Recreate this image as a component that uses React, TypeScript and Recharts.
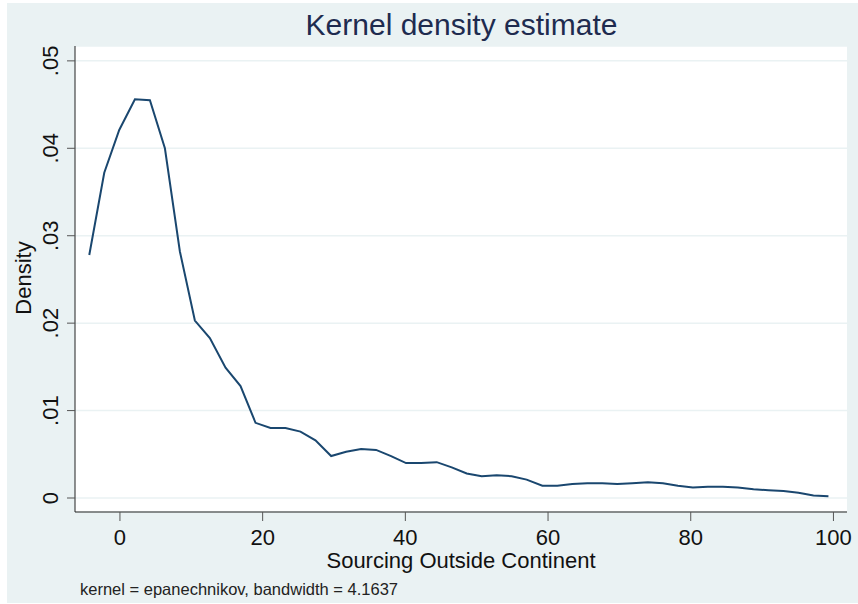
import { CartesianGrid, Line, LineChart, XAxis, YAxis } from 'recharts'

// evaluation points of the kernel density (Sourcing Outside Continent)
const xPoints = [
	-4.3, -2.2, -0.1, 2.1, 4.2, 6.3, 8.4, 10.5, 12.6, 14.8, 16.9, 19.0, 21.1,
	23.2, 25.3, 27.4, 29.6, 31.7, 33.8, 35.9, 38.0, 40.1, 42.2, 44.4, 46.5,
	48.6, 50.7, 52.8, 54.9, 57.0, 59.2, 61.3, 63.4, 65.5, 67.6, 69.7, 71.8,
	74.0, 76.1, 78.2, 80.3, 82.4, 84.5, 86.6, 88.8, 90.9, 93.0, 95.1, 97.2,
	99.3,
]

const densities = [
	0.0278, 0.0372, 0.0421, 0.0456, 0.0455, 0.04, 0.0282, 0.0203, 0.0183,
	0.0149, 0.0128, 0.0086, 0.008, 0.008, 0.0076, 0.0066, 0.0048, 0.0053,
	0.0056, 0.0055, 0.0048, 0.004, 0.004, 0.0041, 0.0035, 0.0028, 0.0025,
	0.0026, 0.0025, 0.0021, 0.0014, 0.0014, 0.0016, 0.0017, 0.0017, 0.0016,
	0.0017, 0.0018, 0.0017, 0.0014, 0.0012, 0.0013, 0.0013, 0.0012, 0.001,
	0.0009, 0.0008, 0.0006, 0.0003, 0.0002,
]

const xTicks = [0, 20, 40, 60, 80, 100]
const yTicks = [0, 0.01, 0.02, 0.03, 0.04, 0.05]
const yTickLabels = ['0', '.01', '.02', '.03', '.04', '.05']

const chartData = xPoints.map((x, i) => ({ x, density: densities[i] }))

const FONT = '"Liberation Sans", Arial, sans-serif'
const LINE_COLOR = '#1a476f'
const BG_COLOR = '#eaf2f3'

const XTick = ({ x, y, payload }: { x?: number; y?: number; payload?: { value: number } }) => (
	<text
		x={x}
		y={(y ?? 0) + 22}
		textAnchor="middle"
		fontSize={22}
		fontFamily={FONT}
		fill="#111"
	>
		{payload?.value}
	</text>
)

const YTick = ({ y, payload }: { y?: number; payload?: { value: number } }) => {
	const idx = yTicks.indexOf(payload?.value ?? -1)
	const label = idx >= 0 ? yTickLabels[idx] : String(payload?.value)
	return (
		<text
			transform={`translate(58, ${y}) rotate(-90)`}
			textAnchor="middle"
			fontSize={22}
			fontFamily={FONT}
			fill="#111"
		>
			{label}
		</text>
	)
}

export default function App() {
	return (
		<div
			style={{
				position: 'absolute',
				left: 0,
				top: 0,
				width: 858,
				height: 604,
				background: '#fff',
				fontFamily: FONT,
			}}
		>
			<div
				style={{
					position: 'absolute',
					left: 7,
					top: 3,
					width: 851,
					height: 600,
					background: BG_COLOR,
				}}
			/>
			<div style={{ position: 'absolute', left: 0, top: 0 }}>
				<LineChart
					width={858}
					height={604}
					data={chartData}
					margin={{ top: 46, right: 11, bottom: 52, left: 0 }}
				>
					<CartesianGrid
						vertical={false}
						stroke={BG_COLOR}
						strokeWidth={1.5}
						fill="#fff"
						fillOpacity={1}
					/>
					<XAxis
						type="number"
						dataKey="x"
						domain={[-6.3, 101.9]}
						ticks={xTicks}
						allowDataOverflow
						height={40}
						tickSize={9}
						stroke="#222"
						tickLine={{ stroke: '#555' }}
						tick={<XTick />}
					/>
					<YAxis
						type="number"
						domain={[-0.0016, 0.0517]}
						ticks={yTicks}
						allowDataOverflow
						width={75}
						tickSize={8}
						stroke="#222"
						tickLine={{ stroke: '#555' }}
						tick={<YTick />}
					/>
					<Line
						type="linear"
						dataKey="density"
						stroke={LINE_COLOR}
						strokeWidth={2}
						dot={false}
						activeDot={false}
						isAnimationActive={false}
					/>
					<text
						x={461.5}
						y={35}
						textAnchor="middle"
						fontSize={30}
						fontFamily={FONT}
						fill="#1e2b4f"
					>
						Kernel density estimate
					</text>
					<text
						transform="translate(31, 278) rotate(-90)"
						textAnchor="middle"
						fontSize={22}
						fontFamily={FONT}
						fill="#111"
					>
						Density
					</text>
					<text
						x={461}
						y={568}
						textAnchor="middle"
						fontSize={22}
						fontFamily={FONT}
						fill="#111"
					>
						Sourcing Outside Continent
					</text>
					<text x={80} y={595} fontSize={16.5} fontFamily={FONT} fill="#222">
						kernel = epanechnikov, bandwidth = 4.1637
					</text>
				</LineChart>
			</div>
		</div>
	)
}
